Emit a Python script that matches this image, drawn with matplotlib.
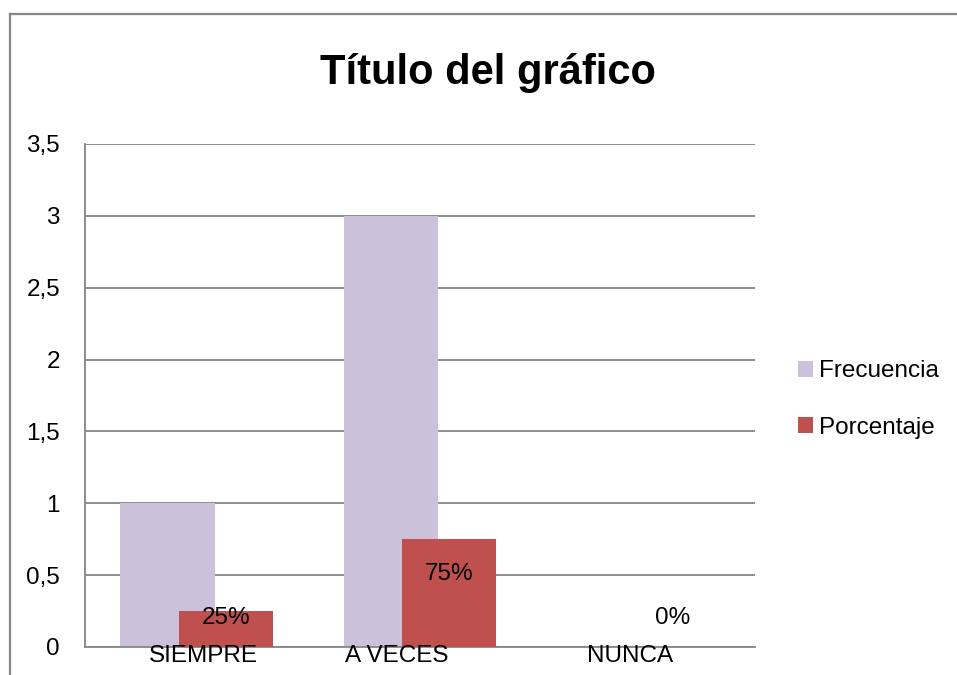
import matplotlib
matplotlib.use("Agg")
from matplotlib import pyplot as plt
from matplotlib.lines import Line2D
import numpy as np

# data
categories = ["SIEMPRE", "A VECES", "NUNCA"]
frecuencia = [1, 3, 0]
porcentaje = [0.25, 0.75, 0.0]
pct_labels = ["25%", "75%", "0%"]
yticks = [0, 0.5, 1, 1.5, 2, 2.5, 3, 3.5]
ytick_labels = ["0", "0,5", "1", "1,5", "2", "2,5", "3", "3,5"]

plt.rcParams["font.family"] = ["Liberation Sans", "DejaVu Sans"]

grid_col = "#868686"
col_frec = "#CCC1DA"
col_pct = "#C0504D"
fs = 17.5

fig = plt.figure(figsize=(9.57, 6.75), dpi=100)
ax = fig.add_axes([0.0888, 0.0415, 0.7001, 0.7452])

x = np.arange(len(categories))
w = 0.422
off = 0.13
ax.bar(x - off, frecuencia, w, color=col_frec, label="Frecuencia", zorder=2)
ax.bar(x + off, porcentaje, w, color=col_pct, label="Porcentaje", zorder=3)

# data labels of the percentage series
for xi, v, lab in zip(x, porcentaje, pct_labels):
    ax.text(xi + off, max(v - 0.24, 0.2), lab, ha="center", va="center",
            fontsize=fs, color="#000000", zorder=4)

# category labels sit on the axis line, slightly shifted like the original
shifts = [0.03, -0.103, -0.058]
for xi, name, s in zip(x, categories, shifts):
    ax.text(xi + s, -0.065, name, ha="center", va="center", fontsize=fs,
            color="#000000", zorder=4, clip_on=False)

ax.set_xlim(-0.5, 2.5)
ax.set_ylim(0, 3.5)
ax.set_yticks(yticks)
ax.set_yticklabels(ytick_labels, fontsize=fs)
ax.tick_params(axis="y", length=0, pad=18)
ax.set_xticks([])
ax.yaxis.grid(True, color=grid_col, linewidth=1.3, zorder=1)
ax.set_axisbelow(True)
for side in ["top", "right"]:
    ax.spines[side].set_visible(False)
for side in ["left", "bottom"]:
    ax.spines[side].set_color(grid_col)
    ax.spines[side].set_linewidth(1.3)

fig.text(0.51, 0.892, "Título del gráfico", ha="center", va="center",
         fontsize=30, fontweight="bold", color="#000000")

leg = ax.legend(loc="center left", bbox_to_anchor=(1.05, 0.492), frameon=False,
                fontsize=fs, handlelength=0.6, handleheight=0.6,
                handletextpad=0.25, labelspacing=1.4, borderaxespad=0)

# outer chart border (only left and top visible in the crop)
fig.add_artist(Line2D([9.5 / 957, 9.5 / 957], [0, 1 - 13.5 / 675],
                      color=grid_col, linewidth=1.6))
fig.add_artist(Line2D([9.5 / 957, 1], [1 - 13.5 / 675, 1 - 13.5 / 675],
                      color=grid_col, linewidth=1.6))

fig.savefig("out.png", dpi=100, facecolor="white")
